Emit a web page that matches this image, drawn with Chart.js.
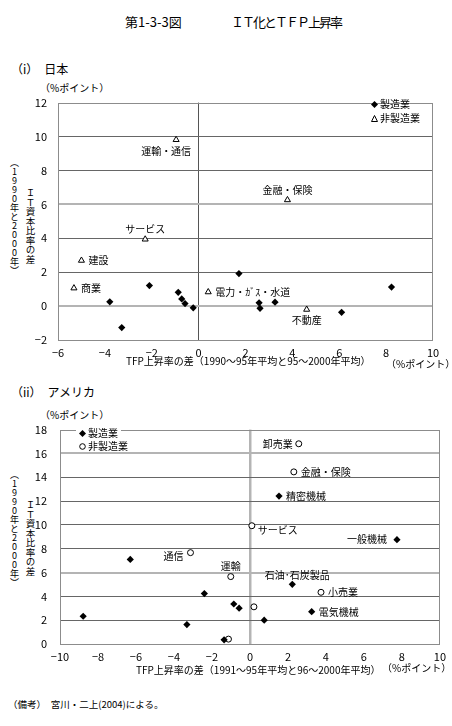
<!DOCTYPE html>
<html><head><meta charset="utf-8">
<script src="https://cdn.jsdelivr.net/npm/chart.js@4/dist/chart.umd.min.js"></script>
<style>
html,body{margin:0;padding:0;background:#fff;}
body{width:452px;height:726px;position:relative;overflow:hidden;font-family:"Noto Sans CJK JP",sans-serif;color:#000;}
.t{position:absolute;white-space:nowrap;line-height:1;}
.t svg{vertical-align:middle;margin-right:2px;position:relative;top:-1px;}
.v{position:absolute;writing-mode:vertical-rl;text-orientation:upright;line-height:1;white-space:nowrap;}
canvas{position:absolute;left:0;}
</style>
</head><body>
<div class="t" style="left:125px;top:15px;font-size:13px;">第1-3-3図</div>
<div class="t" style="left:231px;top:15px;font-size:13px;letter-spacing:-2px;">ＩＴ化とＴＦＰ上昇率</div>

<div class="t" style="left:11px;top:63px;font-size:12px;">（i）　日本</div>
<div class="t" style="left:40px;top:83px;font-size:10px;">（%ポイント）</div>
<div class="v" style="left:10px;top:158px;font-size:9px;">（1990年と2000年）</div>
<div class="v" style="left:25px;top:188px;font-size:9.5px;">ＩＴ資本比率の差</div>
<canvas id="c1" width="452" height="280" style="top:85px;"></canvas>
<div class="t" style="left:126px;top:356px;font-size:10px;">TFP上昇率の差（1990～95年平均と95～2000年平均）</div>
<div class="t" style="left:386px;top:359px;font-size:10px;">（%ポイント）</div>
<div class="t" style="left:371px;top:99px;font-size:10px;"><svg width="7" height="7" viewBox="0 0 7 7"><polygon points="3.5,0 7,3.5 3.5,7 0,3.5" fill="#000"/></svg>製造業</div>
<div class="t" style="left:371px;top:113px;font-size:10px;"><svg width="7" height="7" viewBox="0 0 7 7"><polygon points="3.5,0.5 6.5,6.5 0.5,6.5" fill="#fff" stroke="#000" stroke-width="1"/></svg>非製造業</div>

<div class="t" style="left:11px;top:386px;font-size:12px;">（ii）　アメリカ</div>
<div class="t" style="left:40px;top:410px;font-size:10px;">（%ポイント）</div>
<div class="v" style="left:10px;top:470px;font-size:9px;">（1990年と2000年）</div>
<div class="v" style="left:25px;top:500px;font-size:9.5px;">ＩＴ資本比率の差</div>
<canvas id="c2" width="452" height="262" style="top:410px;"></canvas>
<div class="t" style="left:136px;top:665px;font-size:10px;">TFP上昇率の差（1991～95年平均と96～2000年平均）</div>
<div class="t" style="left:382px;top:663px;font-size:10px;">（%ポイント）</div>
<div class="t" style="left:76px;top:428px;font-size:10px;background:#fff;padding:0 3px;"><svg width="7" height="7" viewBox="0 0 7 7"><polygon points="3.5,0 7,3.5 3.5,7 0,3.5" fill="#000"/></svg>製造業</div>
<div class="t" style="left:76px;top:441px;font-size:10px;background:#fff;padding:0 3px;"><svg width="7" height="7" viewBox="0 0 7 7"><circle cx="3.5" cy="3.5" r="2.8" fill="#fff" stroke="#000" stroke-width="1"/></svg>非製造業</div>

<div class="t" style="left:8px;top:700px;font-size:9.5px;">（備考）　宮川・二上(2004)による。</div>

<script>
// ---- Japan data ----
const jpMfgX = [-3.79,-3.28,-2.10,-0.87,-0.72,-0.58,-0.23,1.72,2.58,2.62,3.26,6.10,8.23];
const jpMfgY = [0.25,-1.27,1.21,0.81,0.42,0.15,-0.10,1.92,0.19,-0.13,0.23,-0.37,1.12];
const jpNonNames = ['運輸・通信','金融・保険','サービス','建設','商業','電力・ｶﾞｽ・水道','不動産'];
const jpNonX = [-0.96,3.79,-2.28,-5.00,-5.32,0.41,4.61];
const jpNonY = [9.81,6.26,3.94,2.69,1.06,0.83,-0.20];
const jpNonPos = ['belowLeft','above','above','right','right','right','below'];
const jpXTicks = [-6,-4,-2,0,2,4,6,8,10];
const jpYTicks = [-2,0,2,4,6,8,10,12];

// ---- USA data ----
const usMfgNames = ['','','','','','','','','石油･石炭製品','電気機械','精密機械','一般機械'];
const usMfgX = [-8.78,-6.30,-2.40,-0.85,-0.57,-3.32,-1.36,0.75,2.23,3.25,1.53,7.74];
const usMfgY = [2.33,7.10,4.23,3.36,3.01,1.63,0.35,2.00,5.01,2.71,12.42,8.76];
const usMfgPos = ['','','','','','','','','aboveRight','right','right','leftFar'];
const usNonNames = ['卸売業','金融・保険','サービス','通信','運輸','小売業','',''];
const usNonX = [2.57,2.31,0.10,-3.13,-1.01,3.74,0.21,-1.13];
const usNonY = [16.81,14.45,9.93,7.67,5.66,4.34,3.12,0.41];
const usNonPos = ['left','right','rightLow','leftLow','above','right','',''];
const usXTicks = [-10,-8,-6,-4,-2,0,2,4,6,8,10];
const usYTicks = [0,2,4,6,8,10,12,14,16,18];

const FONT = '"Noto Sans CJK JP", sans-serif';
const pts = (xs, ys) => xs.map((x, i) => ({x: x, y: ys[i]}));
const fmt = v => v < 0 ? '\u2212' + Math.abs(v) : String(v);

const placements = {
  above: ['center', 0, -10], below: ['center', 0, 11], belowLeft: ['center', -10, 11],
  right: ['left', 7, 0], rightLow: ['left', 6, 4], left: ['right', -6, 0],
  leftLow: ['right', -7, 4], leftFar: ['right', -10, 0], aboveRight: ['center', 5, -9]
};

const labelPlugin = {
  id: 'ptLabels',
  afterDatasetsDraw(chart) {
    const ctx = chart.ctx, xs = chart.scales.x, ys = chart.scales.y;
    ctx.save();
    ctx.font = '10px ' + FONT;
    ctx.fillStyle = '#000';
    ctx.textBaseline = 'middle';
    chart.data.datasets.forEach(ds => {
      (ds.names || []).forEach((n, i) => {
        if (!n) return;
        const p = placements[ds.pos[i]];
        ctx.textAlign = p[0];
        ctx.fillText(n, xs.getPixelForValue(ds.data[i].x) + p[1], ys.getPixelForValue(ds.data[i].y) + p[2]);
      });
    });
    ctx.restore();
  }
};
const framePlugin = {
  id: 'frame',
  beforeDatasetsDraw(chart) {
    const a = chart.chartArea, ctx = chart.ctx;
    ctx.save();
    ctx.strokeStyle = '#8c8c8c';
    ctx.lineWidth = 1;
    ctx.strokeRect(Math.round(a.left) + 0.5, Math.round(a.top) + 0.5, Math.round(a.right - a.left) - 1, Math.round(a.bottom - a.top));
    ctx.restore();
  }
};

function makeChart(id, datasets, xr, yr, xTicks, yTicks, yW, xH, pad, gridY, gridX) {
  return new Chart(document.getElementById(id), {
    type: 'scatter',
    data: {datasets: datasets},
    options: {
      responsive: false, animation: false, devicePixelRatio: 1,
      layout: {padding: pad},
      plugins: {legend: {display: false}, tooltip: {enabled: false}},
      scales: {
        x: {
          min: xr[0], max: xr[1],
          afterBuildTicks: s => { s.ticks = xTicks.map(v => ({value: v})); },
          afterFit: s => { s.height = xH; },
          border: {display: false},
          grid: {drawTicks: false, color: c => c.tick && c.tick.value === 0 ? gridX[0] : 'rgba(0,0,0,0)', lineWidth: c => c.tick && c.tick.value === 0 ? gridX[1] : 0},
          ticks: {padding: 6, color: '#000', font: {family: FONT, size: 11}, maxRotation: 0, autoSkip: false, callback: v => fmt(v)}
        },
        y: {
          min: yr[0], max: yr[1],
          afterBuildTicks: s => { s.ticks = yTicks.map(v => ({value: v})); },
          afterFit: s => { s.width = yW; },
          border: {display: false},
          grid: {drawTicks: false, color: c => gridY(c.tick ? c.tick.value : null)[0], lineWidth: c => gridY(c.tick ? c.tick.value : null)[1]},
          ticks: {padding: yW - 47, color: '#000', font: {family: FONT, size: 11}, autoSkip: false, callback: v => fmt(v)}
        }
      }
    },
    plugins: [framePlugin, labelPlugin]
  });
}

makeChart('c1', [
  {data: pts(jpMfgX, jpMfgY), pointStyle: 'rectRot', radius: 3.6, backgroundColor: '#000', borderColor: '#000', borderWidth: 0},
  {data: pts(jpNonX, jpNonY), names: jpNonNames, pos: jpNonPos, pointStyle: 'triangle', radius: 3.5, backgroundColor: '#fff', borderColor: '#000', borderWidth: 1}
], [-6, 10], [-2, 12], jpXTicks, jpYTicks, 58, 25, {top: 12, right: 19, left: 0, bottom: 0},
  v => (v === 6 || v === 0) ? ['#b4b4b4', 2] : (v === 12 || v === -2) ? ['rgba(0,0,0,0)', 0] : ['#666', 1],
  ['#555', 1]);

makeChart('c2', [
  {data: pts(usMfgX, usMfgY), names: usMfgNames, pos: usMfgPos, pointStyle: 'rectRot', radius: 3.6, backgroundColor: '#000', borderColor: '#000', borderWidth: 0},
  {data: pts(usNonX, usNonY), names: usNonNames, pos: usNonPos, pointStyle: 'circle', radius: 3, backgroundColor: '#fff', borderColor: '#000', borderWidth: 1}
], [-10, 10], [0, 18], usXTicks, usYTicks, 60, 28, {top: 13, right: 10, left: 0, bottom: 0},
  v => (v === 16 || v === 6) ? ['#b4b4b4', 2] : (v === 18 || v === 0) ? ['rgba(0,0,0,0)', 0] : ['#666', 1],
  ['#b4b4b4', 2.5]);
</script>
</body></html>
